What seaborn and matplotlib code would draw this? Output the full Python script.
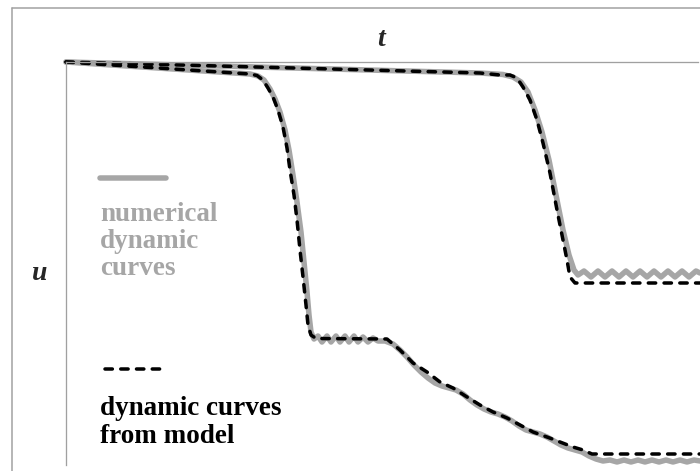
import matplotlib
matplotlib.use("Agg")
import matplotlib.pyplot as plt
from matplotlib.lines import Line2D
import seaborn as sns
import pandas as pd

sns.set_theme(style="white")
plt.rcParams['font.family'] = ['Liberation Serif', 'DejaVu Serif']
plt.rcParams['lines.dash_capstyle'] = 'round'

# ---- data (t to the right, u downward; arbitrary units) ----
# upper curve (later drop), model (dashed)
t_a_model = [0, 134, 284, 414, 434, 444, 451, 457, 464, 471, 477, 484, 491, 497, 501, 504, 509, 634]
u_a_model = [0, -3.5, -7.5, -11, -13, -13, -16, -25, -38, -58, -81, -111, -148, -178, -198, -215, -221, -221]
# upper curve, numerical (gray, with oscillation on plateau)
t_a_num = [0, 134, 284, 414, 437, 447, 455, 462, 469, 476, 483, 490, 497, 503, 508, 512,
           518, 525, 532, 539, 546, 553, 560, 567, 574, 581, 588, 595, 602, 609, 616, 623, 630, 634]
u_a_num = [0, -3.5, -7.5, -11, -12.5, -15, -20, -30, -48, -70, -98, -133, -168, -193, -208, -213,
           -209, -215, -209, -215, -209, -215, -209, -215, -209, -215, -209, -215, -209, -215, -209, -215, -209, -211]

# lower curve (early drop), model (dashed)
t_b_model = [0, 184, 191, 197, 202, 207, 212, 217, 221, 224, 228, 231, 234, 237, 240, 242, 245, 250,
             321, 334, 347, 361, 374, 387, 401, 414, 427, 441, 454, 467, 481, 494, 507, 517, 526, 634]
u_b_model = [0, -12, -13.5, -18, -26, -35, -48, -65, -86, -108, -133, -158, -188, -215, -243, -263, -273, -276.5,
             -277, -288, -301, -310, -320, -326, -335, -343, -350, -356, -363, -370, -375, -380, -385, -388, -392, -392]
# lower curve, numerical (gray, oscillating and slightly step-like)
t_b_num = [0, 84, 184, 192, 198, 204, 209, 214, 219, 223, 227, 231, 235, 238, 241, 243, 245, 248,
           252, 256, 261, 265, 270, 274, 279, 283, 288, 292, 297, 302, 307, 312, 319, 327, 334, 341,
           348, 355, 362, 369, 376, 383, 390, 397, 404, 411, 418, 425, 432, 439, 446, 453, 460, 467,
           474, 481, 488, 495, 502, 509, 516, 523, 530, 537, 544, 551, 558, 565, 572, 579, 586, 593,
           600, 607, 614, 621, 628, 634]
u_b_num = [0, -5.5, -12, -14, -18, -27, -37, -50, -68, -88, -113, -140, -170, -200, -230, -253, -270, -277,
           -274, -280, -274, -280, -274, -280, -274, -280, -274, -280, -275, -280, -276, -279, -279, -282, -288, -295,
           -303, -310, -316, -321, -324, -326, -328, -332, -338, -343, -347, -350, -352, -355, -359, -364, -368, -370,
           -372, -375, -379, -383, -386, -388, -390, -394, -397, -399, -398, -400, -398, -400, -398, -400, -398, -400,
           -398, -400, -398, -400, -398, -399]

gray = "#a6a6a6"
px = 72 / 100  # points per pixel at dpi 100
dash = (0, (2.1, 2.4))

fig = plt.figure(figsize=(7.0, 4.71), dpi=100)
ax = fig.add_axes([66 / 700, 1 - 465 / 471, (698 - 66) / 700, (465 - 62) / 471])

df_a_num = pd.DataFrame({"t": t_a_num, "u": u_a_num})
df_b_num = pd.DataFrame({"t": t_b_num, "u": u_b_num})
df_a_mod = pd.DataFrame({"t": t_a_model, "u": u_a_model})
df_b_mod = pd.DataFrame({"t": t_b_model, "u": u_b_model})

for df in (df_a_num, df_b_num):
    sns.lineplot(data=df, x="t", y="u", sort=False, estimator=None, ax=ax,
                 color=gray, linewidth=5.5 * px, solid_capstyle="round",
                 solid_joinstyle="round", clip_on=False)
for df in (df_a_mod, df_b_mod):
    sns.lineplot(data=df, x="t", y="u", sort=False, estimator=None, ax=ax,
                 color="black", linewidth=3.5 * px, clip_on=False,
                 dash_capstyle="round")
    ln = ax.lines[-1]
    ln.set_linestyle(dash)
    ln.set_dash_capstyle("round")

ax.set_xlim(0, 632)
ax.set_ylim(-403, 0)
ax.set_xlabel("")
ax.set_ylabel("")
ax.set_xticks([])
ax.set_yticks([])
for side in ("right", "bottom"):
    ax.spines[side].set_visible(False)
for side in ("left", "top"):
    ax.spines[side].set_color("#a0a0a0")
    ax.spines[side].set_linewidth(1.3 * px)

# legend-like annotations
ax.plot([0.0538, 0.158], [0.712, 0.712], transform=ax.transAxes, color=gray,
        linewidth=5.5 * px, solid_capstyle="round", clip_on=False)
ax.text(0.0538, 0.653, "numerical\ndynamic\ncurves", transform=ax.transAxes,
        ha="left", va="top", fontsize=19.5, fontweight="bold", color=gray, linespacing=1.12)
lb, = ax.plot([0.062, 0.155], [0.238, 0.238], transform=ax.transAxes, color="black",
              linewidth=3.5 * px, clip_on=False, dash_capstyle="round")
lb.set_linestyle(dash)
lb.set_dash_capstyle("round")
ax.text(0.0538, 0.170, "dynamic curves\nfrom model", transform=ax.transAxes,
        ha="left", va="top", fontsize=19.5, fontweight="bold", color="black", linespacing=1.12)

# axis names
fig.text(381 / 700, 1 - 40 / 471, "t", ha="center", va="center", fontsize=20,
         fontweight="bold", fontstyle="italic")
fig.text(40 / 700, 1 - 273 / 471, "u", ha="center", va="center", fontsize=20,
         fontweight="bold", fontstyle="italic")

# outer frame (left and top)
fig.add_artist(Line2D([11.5 / 700, 11.5 / 700], [0, 1 - 8 / 471], color="#a0a0a0", linewidth=1.5 * px))
fig.add_artist(Line2D([11.5 / 700, 1.0], [1 - 8 / 471, 1 - 8 / 471], color="#a0a0a0", linewidth=1.5 * px))

fig.savefig("out.png", dpi=100)
